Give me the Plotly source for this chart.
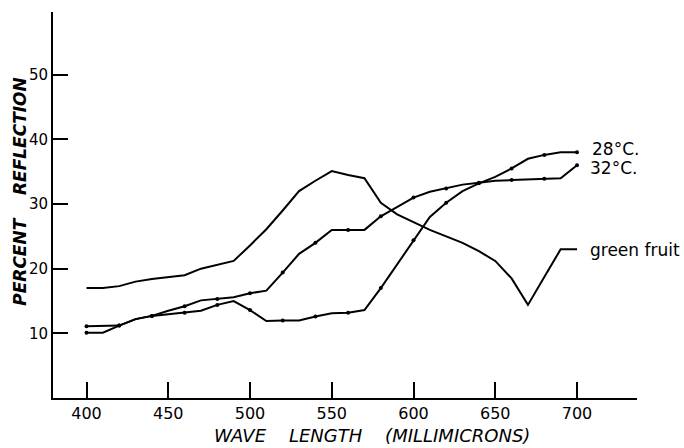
import plotly.graph_objects as go

wavelengths = [400, 410, 420, 430, 440, 450, 460, 470, 480, 490, 500, 510, 520, 530, 540, 550,
               560, 570, 580, 590, 600, 610, 620, 630, 640, 650, 660, 670, 680, 690, 700]

green_fruit = [17.0, 17.0, 17.3, 18.0, 18.4, 18.7, 19.0, 20.0, 20.6, 21.2, 23.6, 26.1, 29.0, 32.0,
               33.6, 35.1, 34.5, 34.0, 30.2, 28.4, 27.2, 26.0, 25.0, 24.0, 22.7, 21.2, 18.5, 14.4,
               18.7, 23.0, 23.0]

temp_28 = [10.1, 10.1, 11.2, 12.2, 12.7, 13.0, 13.2, 13.5, 14.4, 15.0, 13.6, 11.9, 12.0, 12.0,
           12.6, 13.1, 13.2, 13.6, 17.0, 20.7, 24.4, 28.0, 30.2, 32.0, 33.2, 34.2, 35.5, 37.0,
           37.6, 38.0, 38.0]

temp_32 = [11.1, 11.1, 11.2, 12.2, 12.7, 13.5, 14.2, 15.1, 15.3, 15.6, 16.2, 16.6, 19.4, 22.3,
           24.0, 26.0, 26.0, 26.0, 28.1, 29.6, 31.0, 31.9, 32.4, 33.0, 33.3, 33.6, 33.7, 33.8,
           33.9, 34.0, 36.0]

x_ticks = [400, 450, 500, 550, 600, 650, 700]
y_ticks = [10, 20, 30, 40, 50]

series_labels = ["28°C.", "32°C.", "green fruit"]

# dots drawn every 20 nm on the temperature curves
dot_idx = list(range(0, len(wavelengths), 2))

fig = go.Figure()

fig.add_trace(go.Scatter(x=wavelengths, y=green_fruit, mode="lines",
                         line=dict(color="black", width=2), hoverinfo="skip"))
for ys in (temp_28, temp_32):
    fig.add_trace(go.Scatter(x=wavelengths, y=ys, mode="lines",
                             line=dict(color="black", width=2), hoverinfo="skip"))
    fig.add_trace(go.Scatter(x=[wavelengths[i] for i in dot_idx], y=[ys[i] for i in dot_idx],
                             mode="markers", marker=dict(color="black", size=4),
                             hoverinfo="skip"))

font_main = "DejaVu Sans, Liberation Sans, sans-serif"

fig.update_layout(
    width=684, height=448,
    margin=dict(l=53, r=47, t=12, b=50),
    paper_bgcolor="white", plot_bgcolor="white",
    showlegend=False,
    font=dict(family=font_main, color="black", size=15),
    xaxis=dict(range=[379.5, 736.7], tickvals=x_ticks, ticks="inside", ticklen=16,
               tickwidth=2, tickcolor="black", showline=True, linecolor="black",
               linewidth=2, showgrid=False, zeroline=False,
               tickfont=dict(size=16, family=font_main)),
    yaxis=dict(range=[0, 59.7], tickvals=y_ticks, ticks="inside", ticklen=15,
               tickwidth=2, tickcolor="black", showline=True, linecolor="black",
               linewidth=2, showgrid=False, zeroline=False,
               tickfont=dict(size=15, family=font_main)),
)

sp = "\u00a0" * 4
annotations = [
    dict(x=0.547, y=-0.098, xref="paper", yref="paper",
         text="<i>WAVE" + sp + "LENGTH" + sp + "(MILLIMICRONS)</i>",
         showarrow=False, font=dict(size=18, family=font_main),
         xanchor="center", yanchor="middle"),
    dict(x=-0.056, y=0.535, xref="paper", yref="paper",
         text="<b><i>PERCENT\u00a0\u00a0\u00a0\u00a0REFLECTION</i></b>",
         showarrow=False, textangle=-90, font=dict(size=17, family=font_main),
         xanchor="center", yanchor="middle"),
    dict(x=708, y=38.5, xref="x", yref="y", text=series_labels[0],
         showarrow=False, xanchor="left", yanchor="middle", font=dict(size=17)),
    dict(x=707, y=35.6, xref="x", yref="y", text=series_labels[1],
         showarrow=False, xanchor="left", yanchor="middle", font=dict(size=17)),
    dict(x=706.5, y=22.9, xref="x", yref="y", text=series_labels[2],
         showarrow=False, xanchor="left", yanchor="middle", font=dict(size=17)),
]
fig.update_layout(annotations=annotations)

fig.write_html("out.html")
